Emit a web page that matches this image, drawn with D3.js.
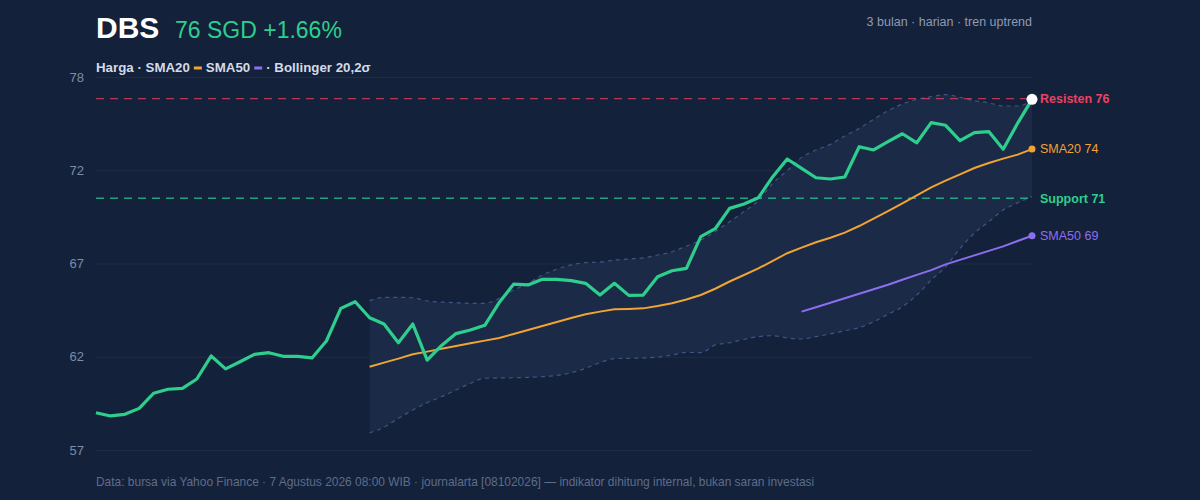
<!DOCTYPE html>
<html>
<head>
<meta charset="utf-8">
<script src="https://cdn.jsdelivr.net/npm/d3@7"></script>
<style>
  html, body { margin: 0; padding: 0; background: #14213a; }
  svg { display: block; font-family: "Liberation Sans", Arial, sans-serif; }
</style>
</head>
<body>
<script>
// harga penutupan harian (66 hari bursa)
const price = [58.97, 58.79, 58.88, 59.21, 60.05, 60.27, 60.32, 60.84, 62.12, 61.4,
    61.8, 62.21, 62.3, 62.1, 62.1, 62.01, 62.95, 64.76, 65.13, 64.24,
    63.89, 62.85, 63.89, 61.89, 62.7, 63.36, 63.56, 63.82, 65.08, 66.1,
    66.06, 66.37, 66.37, 66.3, 66.15, 65.5, 66.15, 65.48, 65.5, 66.52,
    66.85, 66.98, 68.74, 69.18, 70.31, 70.55, 70.9, 72.07, 73.05, 72.53,
    72.01, 71.94, 72.05, 73.73, 73.55, 74.01, 74.45, 73.95, 75.07, 74.92,
    74.07, 74.51, 74.57, 73.59, 75.03, 76.36];

// indikator, mulai dari hari ke-20 / ke-50
const sma20Start = 19;
const sma20 = [61.52, 61.75, 61.97, 62.21, 62.36, 62.52, 62.67, 62.82, 62.97, 63.12,
    63.34, 63.56, 63.78, 64.0, 64.23, 64.43, 64.58, 64.71, 64.73, 64.76,
    64.89, 65.04, 65.25, 65.5, 65.85, 66.25, 66.61, 66.98, 67.39, 67.82,
    68.13, 68.43, 68.68, 68.96, 69.33, 69.74, 70.16, 70.59, 71.03, 71.48,
    71.85, 72.2, 72.55, 72.83, 73.07, 73.29, 73.6];
const bbUpper = [65.19, 65.37, 65.37, 65.35, 65.17, 65.11, 65.07, 65.04, 65.04, 65.32,
    65.78, 66.15, 66.61, 66.93, 67.17, 67.3, 67.33, 67.44, 67.5, 67.56,
    67.72, 67.9, 68.22, 68.55, 69.02, 69.57, 70.13, 70.74, 71.7, 72.4,
    73.14, 73.55, 73.86, 74.33, 74.75, 75.25, 75.73, 76.1, 76.36, 76.51,
    76.62, 76.47, 76.28, 76.17, 75.99, 75.99, 76.28];
const bbLower = [57.86, 58.16, 58.66, 59.12, 59.53, 59.86, 60.23, 60.6, 60.88, 60.9,
    60.91, 60.93, 60.97, 61.04, 61.19, 61.43, 61.75, 61.97, 61.99, 62.01,
    62.05, 62.17, 62.32, 62.3, 62.73, 62.85, 63.04, 63.19, 63.24, 63.12,
    63.06, 63.19, 63.34, 63.52, 63.69, 64.02, 64.43, 64.85, 65.5, 66.33,
    67.07, 68.09, 68.93, 69.57, 70.22, 70.62, 70.96];
const sma50Start = 49;
const sma50 = [64.58, 64.82, 65.07, 65.32, 65.57, 65.82, 66.07, 66.35, 66.62, 66.88,
    67.2, 67.45, 67.7, 67.95, 68.2, 68.5, 68.79];

const resistance = 76.4;
const support = 70.87;
const yTickValues = [56.9, 62.075, 67.25, 72.425, 77.6];

const ticker = "DBS";
const headline = "76 SGD +1.66%";
const subtitle = "3 bulan · harian · tren uptrend";
const footer = "Data: bursa via Yahoo Finance · 7 Agustus 2026 08:00 WIB · journalarta [08102026] — indikator dihitung internal, bukan saran investasi";

const width = 1200, height = 500;
const margin = { top: 77, right: 168, bottom: 50, left: 96 };
const green = "#2ecf8e", orange = "#f0a433", purple = "#8c6ff0", red = "#ee4060";

const svg = d3.select("body").append("svg")
    .attr("width", width)
    .attr("height", height);

svg.append("rect").attr("width", width).attr("height", height).attr("fill", "#14213a");

const x = d3.scaleLinear()
    .domain([0, price.length - 1])
    .range([margin.left, width - margin.right]);
const y = d3.scaleLinear()
    .domain([yTickValues[0], yTickValues[yTickValues.length - 1]])
    .range([height - margin.bottom, margin.top]);

// gridlines + y labels
const yAxis = svg.append("g")
    .attr("transform", `translate(${margin.left},0)`)
    .call(d3.axisLeft(y)
        .tickValues(yTickValues)
        .tickFormat(d3.format(".0f"))
        .tickSize(-(width - margin.right - margin.left))
        .tickPadding(12));
yAxis.select(".domain").remove();
yAxis.selectAll(".tick line").attr("stroke", "#1e2c47").attr("stroke-width", 1.2);
yAxis.selectAll(".tick text")
    .attr("fill", "#7f8ca6")
    .style("font-size", "13px")
    .style("font-family", "'Liberation Sans', Arial, sans-serif");

// bollinger band
const band = bbUpper.map((u, i) => ({ i: i + sma20Start, u, l: bbLower[i] }));
svg.append("path")
    .datum(band)
    .attr("fill", "#1c2b48")
    .attr("fill-opacity", 0.9)
    .attr("d", d3.area().curve(d3.curveMonotoneX)
        .x(d => x(d.i)).y0(d => y(d.l)).y1(d => y(d.u)));

["u", "l"].forEach(k => {
    svg.append("path")
        .datum(band)
        .attr("fill", "none")
        .attr("stroke", "#3e5684")
        .attr("stroke-width", 1.2)
        .attr("stroke-dasharray", "4,4")
        .attr("d", d3.line().curve(d3.curveMonotoneX).x(d => x(d.i)).y(d => y(d[k])));
});

// support / resistance
const levels = [
    { v: resistance, color: red, opacity: 0.75 },
    { v: support, color: "#1fb386", opacity: 0.9 }
];
levels.forEach(lv => {
    svg.append("line")
        .attr("x1", margin.left).attr("x2", width - margin.right)
        .attr("y1", y(lv.v)).attr("y2", y(lv.v))
        .attr("stroke", lv.color)
        .attr("stroke-opacity", lv.opacity)
        .attr("stroke-width", 1.3)
        .attr("stroke-dasharray", "8,6");
});

// moving averages
const line = d3.line().x(d => x(d.i)).y(d => y(d.v));
const sma20Pts = sma20.map((v, i) => ({ i: i + sma20Start, v }));
const sma50Pts = sma50.map((v, i) => ({ i: i + sma50Start, v }));
svg.append("path").datum(sma20Pts)
    .attr("fill", "none").attr("stroke", orange).attr("stroke-width", 2)
    .attr("d", line);
svg.append("path").datum(sma50Pts)
    .attr("fill", "none").attr("stroke", purple).attr("stroke-width", 2)
    .attr("d", line);

// harga
const pricePts = price.map((v, i) => ({ i, v }));
svg.append("path").datum(pricePts)
    .attr("fill", "none").attr("stroke", green).attr("stroke-width", 3.2)
    .attr("stroke-linejoin", "round")
    .attr("d", line);

const last = pricePts[pricePts.length - 1];
const lastS20 = sma20Pts[sma20Pts.length - 1];
const lastS50 = sma50Pts[sma50Pts.length - 1];
svg.append("circle").attr("cx", x(lastS20.i)).attr("cy", y(lastS20.v)).attr("r", 3.5).attr("fill", orange);
svg.append("circle").attr("cx", x(lastS50.i)).attr("cy", y(lastS50.v)).attr("r", 3.5).attr("fill", purple);
svg.append("circle").attr("cx", x(last.i)).attr("cy", y(last.v)).attr("r", 5.5).attr("fill", "#ffffff");

// label kanan
const fmt = d3.format(".0f");
const rightLabels = [
    { text: `Resisten ${fmt(resistance)}`, v: resistance, color: red, weight: "bold" },
    { text: `SMA20 ${fmt(lastS20.v)}`, v: lastS20.v, color: orange, weight: "normal" },
    { text: `Support ${fmt(support)}`, v: support, color: green, weight: "bold" },
    { text: `SMA50 ${fmt(lastS50.v)}`, v: lastS50.v, color: purple, weight: "normal" }
];
svg.selectAll(".rlabel")
    .data(rightLabels)
    .enter().append("text")
    .attr("class", "rlabel")
    .attr("x", width - margin.right + 8)
    .attr("y", d => y(d.v))
    .attr("dy", "0.35em")
    .attr("fill", d => d.color)
    .style("font-size", "12.5px")
    .style("font-weight", d => d.weight)
    .text(d => d.text);

// judul
svg.append("text")
    .attr("x", 96).attr("y", 38)
    .attr("fill", "#ffffff")
    .style("font-size", "30px").style("font-weight", "bold")
    .text(ticker);
svg.append("text")
    .attr("x", 175).attr("y", 38)
    .attr("fill", green)
    .style("font-size", "23px")
    .text(headline);
svg.append("text")
    .attr("x", width - margin.right).attr("y", 26)
    .attr("text-anchor", "end")
    .attr("fill", "#8e9bb3")
    .style("font-size", "12.5px")
    .text(subtitle);

// legenda
const legendParts = [
    { text: "Harga · SMA20" },
    { swatch: orange },
    { text: "SMA50" },
    { swatch: purple },
    { text: "· Bollinger 20,2σ" }
];
let lx = 96;
const legend = svg.append("g");
legendParts.forEach(p => {
    if (p.swatch) {
        legend.append("rect")
            .attr("x", lx + 4).attr("y", 66.5)
            .attr("width", 8).attr("height", 3)
            .attr("fill", p.swatch);
        lx += 16;
    } else {
        const t = legend.append("text")
            .attr("x", lx).attr("y", 72)
            .attr("fill", "#d3dae8")
            .style("font-size", "13.3px").style("font-weight", "bold")
            .text(p.text);
        lx += t.node().getComputedTextLength();
    }
});

svg.append("text")
    .attr("x", 96).attr("y", 486)
    .attr("fill", "#5d6d8a")
    .style("font-size", "11.95px")
    .text(footer);
</script>
</body>
</html>
